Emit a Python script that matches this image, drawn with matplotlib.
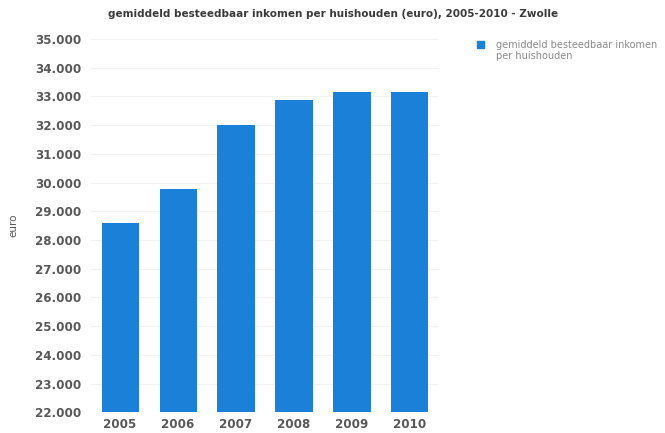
import matplotlib
matplotlib.use("Agg")
import matplotlib.pyplot as plt
from matplotlib.patches import Rectangle
from matplotlib.ticker import FuncFormatter

years = ["2005", "2006", "2007", "2008", "2009", "2010"]
inkomen = [28600, 29770, 32000, 32860, 33140, 33140]
y_ticks = list(range(22000, 35001, 1000))
series_name = "gemiddeld besteedbaar inkomen\nper huishouden"

bar_color = "#1b80d8"
text_color = "#585858"

fig = plt.figure(figsize=(6.65, 4.33), dpi=100)
ax = fig.add_axes([0.137, 0.048, 0.523, 0.862])

ax.bar(years, inkomen, width=0.64, color=bar_color, zorder=2)

ax.set_ylim(22000, 35000)
ax.set_xlim(-0.5, len(years) - 0.5)
ax.set_yticks(y_ticks)
ax.yaxis.set_major_formatter(FuncFormatter(lambda v, p: f"{int(v):,}".replace(",", ".")))
ax.grid(axis="y", color="#f2f2f2", linewidth=0.8, zorder=0)

for s in ax.spines.values():
    s.set_visible(False)
ax.tick_params(length=0, colors=text_color, labelsize=8.6)
ax.tick_params(axis="y", pad=7)
ax.tick_params(axis="x", pad=4)
for lbl in ax.get_xticklabels() + ax.get_yticklabels():
    lbl.set_fontweight("bold")

ax.set_ylabel("euro", color=text_color, fontsize=7.5)
ax.yaxis.set_label_coords(-0.21, 0.5)

fig.text(0.162, 0.968, "gemiddeld besteedbaar inkomen per huishouden (euro), 2005-2010 - Zwolle",
         fontsize=7.5, fontweight="bold", color="#3a3a3a", ha="left", va="center")

# legend box in the right margin
fig.patches.append(Rectangle((477 / 665, 1 - 48 / 433), 7 / 665, 7 / 433,
                             transform=fig.transFigure, color=bar_color))
fig.text(496 / 665, 1 - 40 / 433, series_name, fontsize=7.0, color="#8a8a8a",
         ha="left", va="top", linespacing=1.1)

plt.savefig("out.png", dpi=100)
